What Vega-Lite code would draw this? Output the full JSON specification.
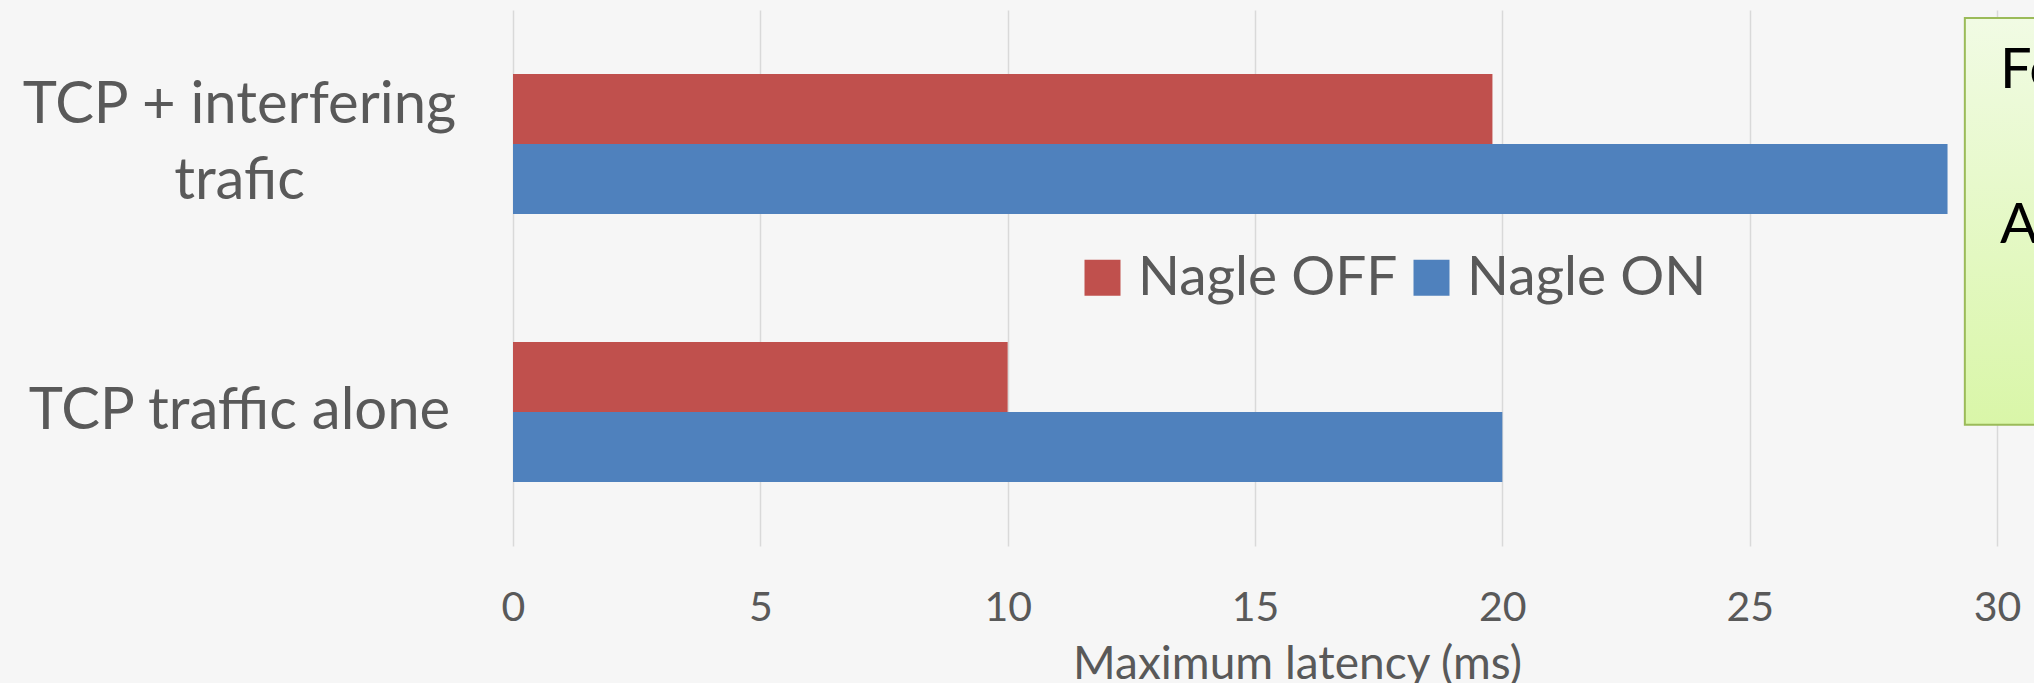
{
  "$schema": "https://vega.github.io/schema/vega-lite/v6.json",
  "autosize": {"type": "none"},
  "width": 1484,
  "height": 536,
  "padding": {"left": 513, "top": 10, "right": 37, "bottom": 137},
  "background": "#f6f6f6",
  "config": {"view": {"stroke": null}, "font": "Lato"},
  "datasets": {
    "bars": [
      {"scenario": "TCP + interfering trafic", "series": "Nagle OFF", "latency": 19.8},
      {"scenario": "TCP + interfering trafic", "series": "Nagle ON", "latency": 29.0},
      {"scenario": "TCP traffic alone", "series": "Nagle OFF", "latency": 10.0},
      {"scenario": "TCP traffic alone", "series": "Nagle ON", "latency": 20.0}
    ]
  },
  "layer": [
    {
      "data": {"name": "bars"},
      "mark": {"type": "bar"},
      "encoding": {
        "y": {
          "field": "scenario", "type": "nominal",
          "sort": ["TCP + interfering trafic", "TCP traffic alone"],
          "scale": {"paddingInner": 0.478, "paddingOuter": 0.239},
          "axis": {
            "title": null, "ticks": false, "domain": false, "grid": false,
            "labelAlign": "center", "labelPadding": 274, "labelLimit": 0,
            "labelFontSize": 58, "labelColor": "#595959", "labelLineHeight": 76,
            "labelOffset": {"condition": {"test": "datum.value == 'TCP + interfering trafic'", "value": -38}, "value": 0},
            "labelExpr": "datum.value == 'TCP + interfering trafic' ? ['TCP + interfering', 'trafic'] : datum.value"
          }
        },
        "yOffset": {
          "field": "series", "type": "nominal",
          "sort": ["Nagle OFF", "Nagle ON"],
          "scale": {"paddingInner": 0, "paddingOuter": 0}
        },
        "x": {
          "field": "latency", "type": "quantitative",
          "scale": {"domain": [0, 30], "nice": false},
          "axis": {
            "title": "Maximum latency (ms)", "values": [0, 5, 10, 15, 20, 25, 30],
            "ticks": false, "domain": false, "grid": true,
            "gridColor": "#d9d9d9", "gridWidth": 1.5,
            "labelFontSize": 41, "labelColor": "#595959", "labelPadding": 42,
            "labelFlush": false,
            "titleFontSize": 46, "titleFontWeight": "normal", "titleColor": "#595959",
            "titleX": 784, "titleY": 132, "titleAlign": "center", "titleBaseline": "alphabetic"
          }
        },
        "color": {
          "field": "series", "type": "nominal",
          "scale": {"domain": ["Nagle OFF", "Nagle ON"], "range": ["#c0504d", "#4f81bd"]},
          "legend": {
            "orient": "none", "legendX": 562, "legendY": 240, "direction": "horizontal",
            "title": null, "labelFontSize": 55, "labelColor": "#595959",
            "symbolType": "square", "symbolSize": 1296, "symbolStrokeWidth": 0,
            "labelOffset": 8, "columnPadding": 6, "padding": 0, "labelLimit": 0
          }
        }
      }
    },
    {
      "data": {"values": [{}]},
      "mark": {
        "type": "rect", "strokeWidth": 2, "stroke": "#9bbb59",
        "fill": {"gradient": "linear", "x1": 0, "y1": 0, "x2": 0, "y2": 1,
          "stops": [{"offset": 0, "color": "#f1fbe4"}, {"offset": 1, "color": "#d9f6a8"}]}
      },
      "encoding": {
        "x": {"datum": 29.35, "type": "quantitative", "scale": {"domain": [0, 30], "nice": false}},
        "x2": {"datum": 33},
        "y": {"datum": 98.5, "type": "quantitative", "scale": {"domain": [0, 100], "nice": false}, "axis": null},
        "y2": {"datum": 22.6}
      }
    },
    {
      "data": {"values": [{}]},
      "mark": {"type": "text", "text": "Fo", "align": "left", "baseline": "middle", "fontSize": 56, "color": "#000000"},
      "encoding": {
        "x": {"datum": 30.06, "type": "quantitative"},
        "y": {"datum": 88.6, "type": "quantitative", "scale": {"domain": [0, 100], "nice": false}, "axis": null}
      }
    },
    {
      "data": {"values": [{}]},
      "mark": {"type": "text", "text": "A", "align": "left", "baseline": "middle", "fontSize": 56, "color": "#000000"},
      "encoding": {
        "x": {"datum": 30.06, "type": "quantitative"},
        "y": {"datum": 59.7, "type": "quantitative", "scale": {"domain": [0, 100], "nice": false}, "axis": null}
      }
    }
  ],
  "resolve": {"scale": {"y": "independent"}}
}
